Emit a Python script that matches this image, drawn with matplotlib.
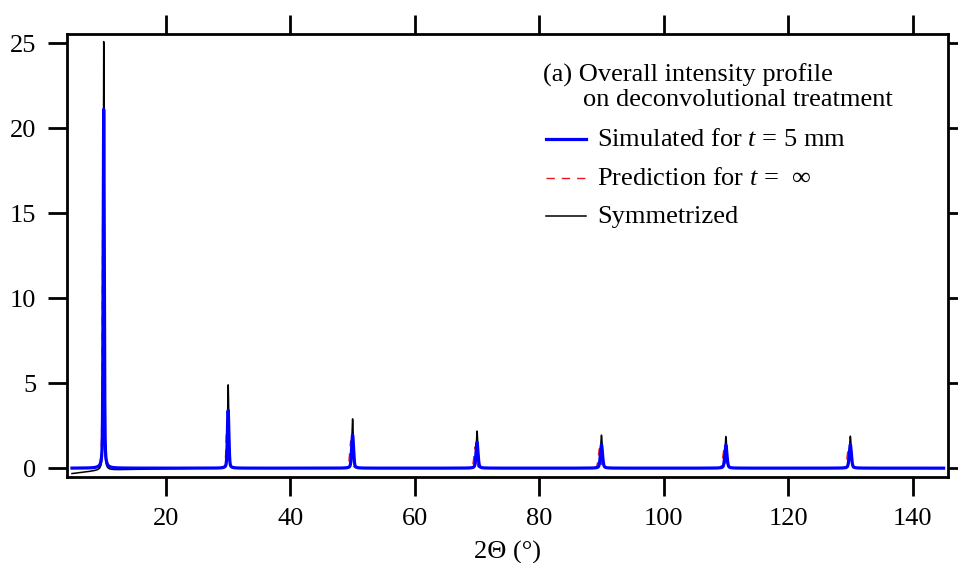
import numpy as np
import matplotlib
matplotlib.use("Agg")
import matplotlib.pyplot as plt
from matplotlib.lines import Line2D

plt.rcParams['font.family'] = ['Liberation Serif', 'DejaVu Serif']
plt.rcParams['mathtext.fontset'] = 'custom'
plt.rcParams['mathtext.rm'] = 'Liberation Serif'
plt.rcParams['mathtext.it'] = 'Liberation Serif:italic'

# ---- data ----
peak_pos = [10, 30, 50, 70, 90, 110, 130]
sim_height = [21.1, 3.4, 1.95, 1.52, 1.38, 1.35, 1.38]
sym_height = [25.2, 4.9, 2.9, 2.18, 1.94, 1.86, 1.88]
pred_height = [19.0, 3.0, 1.6, 1.25, 1.15, 1.1, 1.15]
pred_shift = [-0.1, -0.18, -0.3, -0.32, -0.32, -0.32, -0.32]
sim_width = [0.09, 0.12, 0.15, 0.16, 0.17, 0.17, 0.17]
sym_width = [0.07, 0.10, 0.12, 0.13, 0.14, 0.14, 0.14]
sym_base_x = [4.9, 9.6, 15.0, 20.0, 25.0, 146.0]
sym_base_y = [-0.32, -0.12, -0.07, -0.03, 0.0, 0.0]
x_start, x_end = 4.9, 145.0

xticks = [20, 40, 60, 80, 100, 120, 140]
yticks = [0, 5, 10, 15, 20, 25]


def profile(x, pos, h, w, eta=0.35):
    out = np.zeros_like(x)
    for p, hh, ww in zip(pos, h, w):
        g = np.exp(-0.5 * ((x - p) / ww) ** 2)
        l = 1.0 / (1.0 + ((x - p) / (1.2 * ww)) ** 2)
        out += hh * ((1 - eta) * g + eta * l)
    return out


x = np.arange(x_start, x_end, 0.005)
sim = profile(x, peak_pos, sim_height, sim_width)
sym = profile(x, peak_pos, sym_height, sym_width) + np.interp(x, sym_base_x, sym_base_y)
pred = profile(x, np.array(peak_pos) + np.array(pred_shift), pred_height,
               np.array(sim_width) * 1.1)

W, H = 958, 563
FS = 19
fig = plt.figure(figsize=(W / 100, H / 100), dpi=100)
ax = fig.add_axes([67 / W, 1 - 477 / H, (948 - 67) / W, (477 - 34) / H])

ax.plot(x, sym, color='black', lw=1.1, zorder=2)
ax.plot(x, pred, color='#e8191c', lw=1.0, ls=(0, (6, 5)), zorder=3)
ax.plot(x, sim, color='#0000ff', lw=2.3, zorder=4)

ax.set_xlim(4.1, 145.7)
ax.set_ylim(-0.52, 25.53)
ax.set_xticks(xticks)
ax.set_yticks(yticks)
ax.tick_params(direction='out', length=14, width=2.0, labelsize=FS, pad=8,
               top=True, right=True, labeltop=False, labelright=False)
for s in ax.spines.values():
    s.set_linewidth(2.0)

fig.text(507 / W, 1 - 559 / H, '2Θ (°)', ha='center', va='baseline', fontsize=FS)

# legend / annotation
def ft(xp, yp, s, **kw):
    fig.text(xp / W, 1 - yp / H, s, va='baseline', fontsize=FS, **kw)

ft(543, 82, '(a) Overall intensity profile')
ft(583, 106, 'on deconvolutional treatment')
entries = [('Simulated for $t$ = 5 mm', dict(color='#0000ff', lw=2.3), 139, 146),
           ('Prediction for $t$ =  ∞', dict(color='#e8191c', lw=1.0, ls=(0, (6, 5))), 178, 185),
           ('Symmetrized', dict(color='black', lw=1.1), 216, 223)]
for label, style, ly, ty in entries:
    fig.add_artist(Line2D([546 / W, 586 / W], [1 - ly / H, 1 - ly / H],
                          transform=fig.transFigure, **style))
    ft(597, ty, label)

fig.savefig('out.png', dpi=100)
